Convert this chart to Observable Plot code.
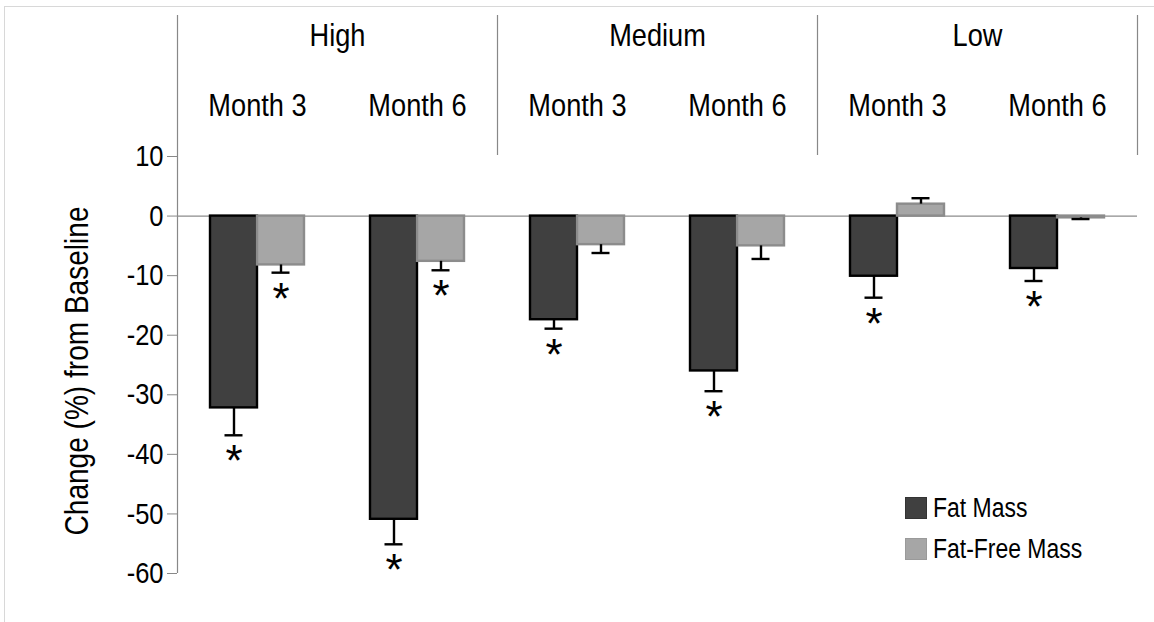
<!DOCTYPE html>
<html><head><meta charset="utf-8">
<script src="https://cdn.jsdelivr.net/npm/d3@7"></script>
<script src="https://cdn.jsdelivr.net/npm/@observablehq/plot@0.6"></script>
<style>
body{margin:0;background:#fff;}
#wrap{position:relative;width:1154px;height:622px;overflow:hidden;}
#frame{position:absolute;left:4px;top:6px;width:1200px;height:700px;border:1px solid #d8d8d8;box-sizing:border-box;}
#chart{position:absolute;left:0;top:0;}
#legend{position:absolute;left:905px;top:497px;font-family:"Liberation Sans",Arial,sans-serif;font-size:27px;color:#000;}
#legend .item{display:flex;align-items:center;height:22px;margin-bottom:19px;white-space:nowrap;}
#legend .sw{width:22px;height:22px;margin-right:6px;box-sizing:border-box;border:1px solid;flex:none;}
#legend .lab{display:inline-block;transform:scaleX(0.85);transform-origin:left center;}
</style></head>
<body><div id="wrap"><div id="frame"></div><div id="chart"></div><div id="legend"></div></div>
<script>
const FONT = '"Liberation Sans", Arial, sans-serif';
const levels = ["High", "High", "Medium", "Medium", "Low", "Low"];
const months = ["Month 3", "Month 6", "Month 3", "Month 6", "Month 3", "Month 6"];
const series = ["Fat Mass", "Fat-Free Mass"];
const fatMass = [-32.2, -50.9, -17.4, -26.0, -10.1, -8.8];
const fatMassErr = [4.6, 4.2, 1.5, 3.4, 3.6, 2.1];
const fatMassSig = [true, true, true, true, true, true];
const fatFreeMass = [-8.2, -7.6, -4.8, -5.0, 2.0, -0.3];
const fatFreeMassErr = [1.3, 1.5, 1.4, 2.2, 1.0, 0.2];
const fatFreeMassSig = [true, true, false, false, false, false];
const yTicks = [10, 0, -10, -20, -30, -40, -50, -60];
const fills = ["#404040", "#a6a6a6"];
const strokes = ["#000000", "#8c8c8c"];

const keys = levels.map((l, i) => l + " " + months[i]);
function rowsFor(vals, errs, sigs, s) {
  return vals.map((v, i) => ({
    key: keys[i], level: levels[i], month: months[i], series: s, value: v,
    end: v + Math.sign(v || -1) * errs[i], sig: sigs[i]
  }));
}
const fm = rowsFor(fatMass, fatMassErr, fatMassSig, series[0]);
const ffm = rowsFor(fatFreeMass, fatFreeMassErr, fatFreeMassSig, series[1]);
const groups = keys.map((k, i) => ({key: k, level: levels[i], month: months[i]}));
const levelStarts = groups.filter((g, i) => i === 0 || levels[i - 1] !== g.level);

const half = 23.5; // half bar width
const plot = Plot.plot({
  width: 1154, height: 622,
  marginTop: 156, marginBottom: 49, marginLeft: 177, marginRight: 17,
  style: {fontFamily: FONT, background: "transparent", color: "#000"},
  x: {domain: keys, padding: 0, axis: null},
  y: {domain: [-60, 10], axis: null},
  marks: [
    Plot.axisY({ticks: yTicks, tickSize: 10, tickPadding: 4, tickFormat: d => String(d), label: null, stroke: "#888", fontSize: 30, fill: "#000"}),
    Plot.ruleX(levelStarts.slice(0, 1), {x: "key", dx: -80, insetTop: -141, stroke: "#888", strokeWidth: 1.2}),
    Plot.ruleX(levelStarts.slice(1), {x: "key", dx: -80, insetTop: -141, insetBottom: 418, stroke: "#888", strokeWidth: 1.2}),
    Plot.ruleX(groups.slice(-1), {x: "key", dx: 80, insetTop: -141, insetBottom: 418, stroke: "#888", strokeWidth: 1.2}),
    Plot.text(levelStarts, {x: "key", dx: 80, text: "level", frameAnchor: "top", lineAnchor: "middle", dy: -121, fontSize: 32}),
    Plot.text(groups, {x: "key", text: "month", frameAnchor: "top", lineAnchor: "middle", dy: -51, fontSize: 32}),
    Plot.text(["Change (%) from Baseline"], {text: d => d, frameAnchor: "left", textAnchor: "middle", lineAnchor: "middle", dx: -100, dy: 6, rotate: -90, fontSize: 33}),
    Plot.ruleY([0], {stroke: "#8c8c8c", strokeWidth: 1.2}),
    Plot.barY(fm, {x: "key", y: "value", fill: fills[0], stroke: strokes[0], strokeWidth: 2.4, insetLeft: 80 - 2 * half, insetRight: 80}),
    Plot.barY(ffm, {x: "key", y: "value", fill: fills[1], stroke: strokes[1], strokeWidth: 2.4, insetLeft: 80, insetRight: 80 - 2 * half}),
    Plot.ruleX(fm, {x: "key", dx: -half, y1: "value", y2: "end", stroke: "#000", strokeWidth: 2.4}),
    Plot.ruleX(ffm, {x: "key", dx: half, y1: "value", y2: "end", stroke: "#000", strokeWidth: 2.4}),
    Plot.tickY(fm, {x: "key", y: "end", insetLeft: 80 - half - 9, insetRight: 80 + half - 9, stroke: "#000", strokeWidth: 2.4}),
    Plot.tickY(ffm, {x: "key", y: "end", insetLeft: 80 + half - 9, insetRight: 80 - half - 9, stroke: "#000", strokeWidth: 2.4}),
    Plot.text(fm.filter(d => d.sig), {x: "key", dx: -half, y: "end", dy: 27, text: () => "*", fontSize: 44, className: "ast"}),
    Plot.text(ffm.filter(d => d.sig), {x: "key", dx: half, y: "end", dy: 27, text: () => "*", fontSize: 44, className: "ast"})
  ]
});
document.getElementById("chart").append(plot);

// emulate a narrow typeface by condensing glyphs horizontally
plot.querySelectorAll("text").forEach(el => {
  if (el.closest(".ast")) return;
  const len = el.getComputedTextLength();
  if (len > 0) {
    el.setAttribute("textLength", (len * 0.85).toFixed(2));
    el.setAttribute("lengthAdjust", "spacingAndGlyphs");
  }
});

const legend = document.getElementById("legend");
series.forEach((s, i) => {
  const item = document.createElement("div");
  item.className = "item";
  const sw = document.createElement("span");
  sw.className = "sw";
  sw.style.background = fills[i];
  sw.style.borderColor = i === 0 ? "#333" : "#9a9a9a";
  const t = document.createElement("span");
  t.className = "lab";
  t.textContent = s;
  item.append(sw, t);
  legend.append(item);
});
</script>
</body></html>
